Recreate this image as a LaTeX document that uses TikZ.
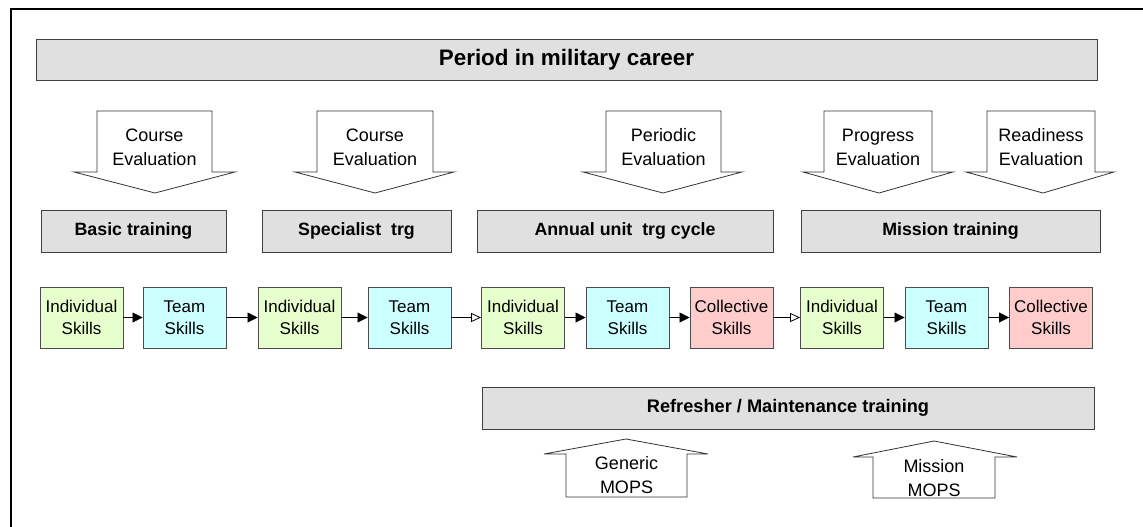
\documentclass[tikz,border=0pt]{standalone}
\usepackage{fontspec}
\setmainfont{Liberation Sans}
\usetikzlibrary{arrows.meta}
\definecolor{barfill}{RGB}{224,224,224}
\definecolor{indivfill}{RGB}{230,255,204}
\definecolor{teamfill}{RGB}{204,255,255}
\definecolor{collfill}{RGB}{255,204,204}
\begin{document}
\begin{tikzpicture}[x=1pt,y=-1pt,
  bar/.style={draw=black!75,fill=barfill,line width=0.9pt,inner sep=0pt,font=\bfseries\fontsize{17.8}{21}\selectfont},
  skill/.style={draw=black!70,line width=0.9pt,minimum width=83pt,minimum height=61pt,inner sep=0pt,align=center,font=\fontsize{17}{21.7}\selectfont},
  indiv/.style={skill,fill=indivfill},
  team/.style={skill,fill=teamfill},
  coll/.style={skill,fill=collfill},
  blockarrow/.style={draw=black!80,fill=white,line width=0.8pt,line join=miter},
  evaltext/.style={align=center,font=\fontsize{18}{24}\selectfont},
  flow/.style={-{Triangle[length=10pt,width=10pt]},line width=0.8pt},
  openflow/.style={-{Triangle[open,length=10pt,width=9pt,fill=white]},line width=0.8pt}]
\useasboundingbox (0,0) rectangle (1143,527);
\draw[line width=2pt] (11,527) -- (11,9) -- (1143,9);

\node[bar,minimum width=1061pt,minimum height=41pt,font=\bfseries\fontsize{22.4}{26}\selectfont] (career) at (566.5,59.5) {Period in military career};

% evaluations
\draw[blockarrow] (97,111) -- (212,111) -- (212,172) -- (235,172) -- (155,193) -- (74,172) -- (97,172) -- cycle;
\node[evaltext] (evalA) at (154.5,147) {Course\\Evaluation};
\draw[blockarrow] (317,111) -- (433,111) -- (433,172) -- (454,172) -- (375,193) -- (295,172) -- (317,172) -- cycle;
\node[evaltext] (evalB) at (375,147) {Course\\Evaluation};
\draw[blockarrow] (606,111) -- (721,111) -- (721,172) -- (742,172) -- (663,193) -- (583,172) -- (606,172) -- cycle;
\node[evaltext] (evalC) at (663.5,147) {Periodic\\Evaluation};
\draw[blockarrow] (824,111) -- (932,111) -- (932,172) -- (953,172) -- (879,193) -- (803,172) -- (824,172) -- cycle;
\node[evaltext] (evalD) at (878,147) {Progress\\Evaluation};
\draw[blockarrow] (987,111) -- (1095,111) -- (1095,172) -- (1114,172) -- (1043,193) -- (966,172) -- (987,172) -- cycle;
\node[evaltext] (evalE) at (1041,147) {Readiness\\Evaluation};

% stages
\node[bar,minimum width=185pt,minimum height=42pt] (basic) at (133.5,231) {Basic training};
\node[bar,minimum width=189pt,minimum height=42pt] (spec) at (356.5,231) {Specialist\ \ trg};
\node[bar,minimum width=296pt,minimum height=42pt] (annual) at (625,231) {Annual unit\ \ trg cycle};
\node[bar,minimum width=299pt,minimum height=42pt] (mission) at (950.5,231) {Mission training};

% skills
\node[indiv] (s1) at (81.5,317.5) {Individual\\Skills};
\node[team] (s2) at (184.5,317.5) {Team\\Skills};
\node[indiv] (s3) at (299.5,317.5) {Individual\\Skills};
\node[team] (s4) at (409.5,317.5) {Team\\Skills};
\node[indiv] (s5) at (523,317.5) {Individual\\Skills};
\node[team] (s6) at (627.5,317.5) {Team\\Skills};
\node[coll] (s7) at (731.5,317.5) {Collective\\Skills};
\node[indiv] (s8) at (842,317.5) {Individual\\Skills};
\node[team] (s9) at (946.5,317.5) {Team\\Skills};
\node[coll] (s10) at (1051,317.5) {Collective\\Skills};
\draw[flow] (s1) -- (s2);
\draw[flow] (s2) -- (s3);
\draw[flow] (s3) -- (s4);
\draw[openflow] (s4) -- (s5);
\draw[flow] (s5) -- (s6);
\draw[flow] (s6) -- (s7);
\draw[openflow] (s7) -- (s8);
\draw[flow] (s8) -- (s9);
\draw[flow] (s9) -- (s10);

% refresher
\node[bar,minimum width=612pt,minimum height=42pt,font=\bfseries\fontsize{18.2}{22}\selectfont] (refresh) at (788,408) {Refresher / Maintenance training};
\draw[blockarrow] (566,497) -- (687,497) -- (687,454) -- (708,454) -- (626,439) -- (544,454) -- (566,454) -- cycle;
\node[evaltext] (mopsA) at (626.5,475) {Generic\\MOPS};
\draw[blockarrow] (873,498) -- (995,498) -- (995,457) -- (1017,457) -- (934,441) -- (853,457) -- (873,457) -- cycle;
\node[evaltext] (mopsB) at (934,478) {Mission\\MOPS};
\end{tikzpicture}
\end{document}
